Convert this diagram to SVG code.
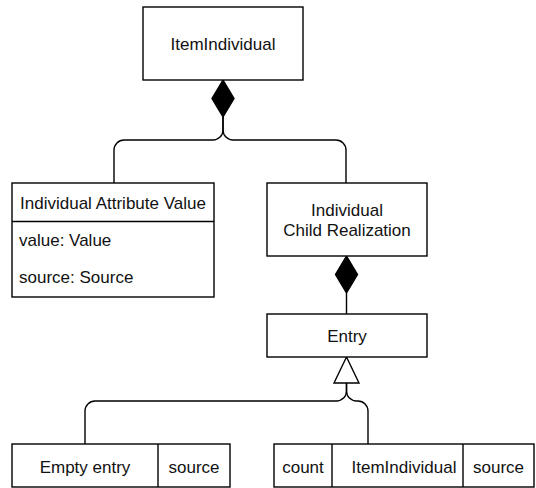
<svg xmlns="http://www.w3.org/2000/svg" width="536" height="488" viewBox="0 0 536 488">
  <style>
    .box { fill: #ffffff; stroke: #000000; stroke-width: 1.4; }
    .div { fill: none; stroke: #000000; stroke-width: 1.4; }
    .edge { fill: none; stroke: #000000; stroke-width: 1.4; }
    .diamond { fill: #000000; stroke: #000000; stroke-width: 1.4; stroke-linejoin: miter; }
    .tri { fill: #ffffff; stroke: #000000; stroke-width: 1.4; stroke-linejoin: miter; }
    text { font-family: "Liberation Sans", Arial, Helvetica, sans-serif; font-size: 17px; fill: #111111; }
    .c { text-anchor: middle; }
  </style>
  <rect width="536" height="488" fill="#ffffff"/>

  <!-- connectors -->
  <g id="connectors">
    <path class="edge" d="M114 183 V150 A10 10 0 0 1 124 140 H213 A10 10 0 0 0 223 130 V117"/>
    <path class="edge" d="M346 183 V150 A10 10 0 0 0 336 140 H233 A10 10 0 0 1 223 130 V117"/>
    <polygon class="diamond" points="223,80 234,98.5 223,117 212,98.5"/>

    <line class="edge" x1="346.5" y1="293" x2="346.5" y2="314"/>
    <polygon class="diamond" points="346.5,256 357.5,274.5 346.5,293 335.5,274.5"/>

    <path class="edge" d="M85 444 V411 A10 10 0 0 1 95 401 H336.5 A10 10 0 0 0 346.5 391 V383"/>
    <path class="edge" d="M368 444 V411 A10 10 0 0 0 358 401 H356.5 A10 10 0 0 1 346.5 391 V383"/>
    <polygon class="tri" points="346.5,357 359,383 334,383"/>
  </g>

  <!-- top class -->
  <g id="item-individual">
    <rect class="box" x="143" y="7" width="160" height="73"/>
    <text class="c" x="223" y="50">ItemIndividual</text>
  </g>

  <!-- attribute value class with fields -->
  <g id="individual-attribute-value">
    <rect class="box" x="12" y="183" width="202" height="114"/>
    <line class="div" x1="12" y1="221.5" x2="214" y2="221.5"/>
    <text class="c" x="113" y="209">Individual Attribute Value</text>
    <text x="19" y="246">value: Value</text>
    <text x="19" y="283">source: Source</text>
  </g>

  <!-- child realization -->
  <g id="individual-child-realization">
    <rect class="box" x="267" y="183" width="160" height="73"/>
    <text class="c" x="347" y="215.5">Individual</text>
    <text class="c" x="347" y="236">Child Realization</text>
  </g>

  <!-- entry base -->
  <g id="entry">
    <rect class="box" x="267" y="314" width="160" height="43"/>
    <text class="c" x="347" y="342">Entry</text>
  </g>

  <!-- empty entry variant -->
  <g id="empty-entry">
    <rect class="box" x="12" y="444" width="218" height="43"/>
    <line class="div" x1="158" y1="444" x2="158" y2="487"/>
    <text class="c" x="85" y="473">Empty entry</text>
    <text class="c" x="194" y="473">source</text>
  </g>

  <!-- counted entry variant -->
  <g id="item-entry">
    <rect class="box" x="274" y="444" width="260" height="43"/>
    <line class="div" x1="332" y1="444" x2="332" y2="487"/>
    <line class="div" x1="463" y1="444" x2="463" y2="487"/>
    <text class="c" x="303" y="473">count</text>
    <text class="c" x="404" y="473">ItemIndividual</text>
    <text class="c" x="498.5" y="473">source</text>
  </g>
</svg>
